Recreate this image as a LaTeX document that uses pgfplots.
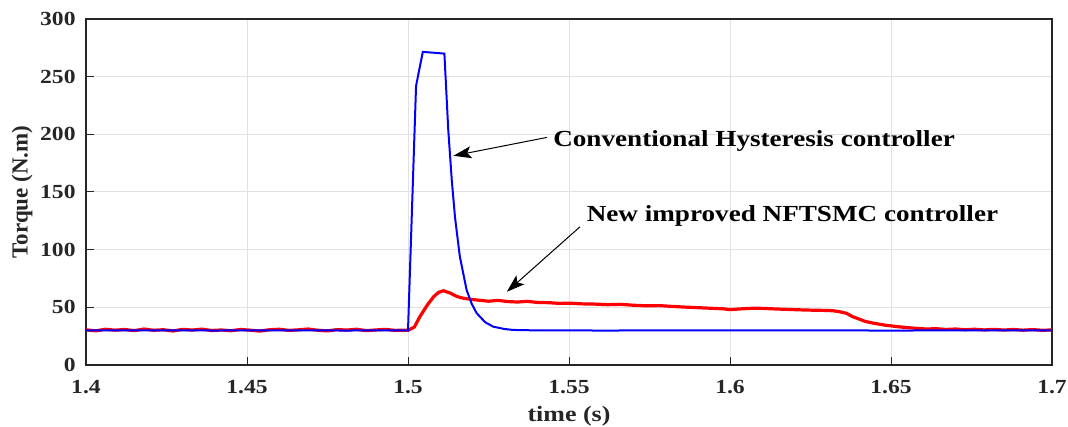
\documentclass[border=0pt]{standalone}
\usepackage{pgfplots}
\pgfplotsset{compat=1.18}
\usepackage{fontspec}
\setmainfont[FakeStretch=1.18]{Liberation Serif}
\newfontfamily\plainserif{Liberation Serif}
\usetikzlibrary{arrows.meta}
\definecolor{gridgray}{RGB}{225,225,225}
\definecolor{axgray}{RGB}{38,38,38}
\begin{document}
\begin{tikzpicture}
\begin{axis}[
  scale only axis, width=483pt, height=173pt,
  xmin=1.4, xmax=1.7, ymin=0, ymax=300,
  xtick={1.4,1.45,1.5,1.55,1.6,1.65,1.7},
  xticklabels={1.4,1.45,1.5,1.55,1.6,1.65,1.7},
  ytick={0,50,100,150,200,250,300},
  tick align=inside, tick pos=left,
  major tick length=4pt,
  grid=major, major grid style={gridgray, line width=0.5pt},
  axis line style={axgray, line width=0.6pt},
  every tick/.style={axgray, line width=0.5pt},
  /pgf/number format/assume math mode=true,
  every x tick label/.style={font=\fontsize{10}{12}\selectfont\bfseries, text=axgray, inner sep=0pt, anchor=base, yshift=-14pt},
  every y tick label/.style={font=\fontsize{10}{12}\selectfont\bfseries, text=axgray, inner sep=0pt, anchor=east, xshift=-5pt},
  xlabel={\bfseries time (s)}, ylabel={\plainserif\bfseries Torque (N.m)},
  xlabel style={font=\fontsize{11}{13}\selectfont, text=axgray, at={(axis description cs:0.5,0)}, anchor=base, yshift=-28.3pt, inner sep=0pt},
  ylabel style={font=\fontsize{11.5}{13}\selectfont, text=axgray, at={(axis description cs:0,0.5)}, anchor=center, yshift=32pt, inner sep=0pt},
]
\addplot[red, line width=1.6pt] coordinates {
(1.400,30.5) (1.403,29.6) (1.406,31.0) (1.409,30.2) (1.412,30.8) (1.415,29.8) (1.418,31.2) (1.421,30.1)
(1.424,30.6) (1.427,29.5) (1.430,30.9) (1.433,30.3) (1.436,31.1) (1.439,29.9) (1.442,30.4) (1.445,29.7)
(1.448,30.8) (1.451,30.2) (1.454,29.4) (1.457,30.6) (1.460,31.0) (1.463,30.0) (1.466,30.5) (1.469,31.2)
(1.472,30.1) (1.475,29.6) (1.478,30.7) (1.481,30.3) (1.484,31.0) (1.487,29.8) (1.490,30.4) (1.493,30.9)
(1.496,30.0) (1.499,30.2) (1.500,30.0)
(1.502,33) (1.5037,42) (1.506,52) (1.5079,59) (1.5095,63) (1.511,64.4) (1.513,62.5) (1.5151,59.5)
(1.517,58) (1.5193,57) (1.522,56.2) (1.525,55.3) (1.528,56.0) (1.531,55.0) (1.534,54.6) (1.537,55.2)
(1.540,54.3) (1.544,54.0) (1.547,53.4) (1.5503,53.6) (1.554,53.0) (1.558,52.8) (1.562,52.3) (1.566,52.6)
(1.570,51.8) (1.574,51.3) (1.578,51.5) (1.582,50.8) (1.586,50.2) (1.590,49.7) (1.594,49.2) (1.598,48.7)
(1.600,48.0) (1.603,48.6) (1.607,49.2) (1.6103,49.1) (1.614,48.6) (1.618,48.2) (1.622,47.8) (1.626,47.5)
(1.630,47.3) (1.6321,47.0) (1.634,46.2) (1.6362,44.8) (1.638,42.0) (1.6404,39.5) (1.642,37.8) (1.6445,36.3)
(1.648,34.6) (1.6518,33.3) (1.655,32.4) (1.658,31.8) (1.661,31.2) (1.664,31.5) (1.667,30.8) (1.670,31.2)
(1.673,30.6) (1.676,31.0) (1.679,30.4) (1.682,30.9) (1.685,30.3) (1.688,30.8) (1.691,30.2) (1.694,30.7)
(1.697,30.1) (1.700,30.4)
};
\addplot[blue, line width=1pt] coordinates {
(1.400,30.0) (1.420,30.1) (1.440,29.9) (1.460,30.1) (1.480,29.9) (1.4998,30.0)
(1.5,30) (1.5025,242) (1.5046,271.5) (1.5113,270) (1.5125,204) (1.5136,160) (1.5146,128)
(1.5161,94) (1.5182,65) (1.5198,53) (1.5213,45) (1.524,37) (1.5265,33.2) (1.530,31.2) (1.5326,30.4)
(1.540,30.0) (1.560,29.9) (1.600,30.0) (1.650,29.9) (1.700,30.0)
};
\draw[-{Stealth[length=9pt,width=6pt,inset=2pt]}, line width=0.5pt] (axis cs:1.5431,197.3) -- (axis cs:1.5141,181.4);
\draw[-{Stealth[length=9pt,width=6pt,inset=2pt]}, line width=0.5pt] (axis cs:1.5534,119.8) -- (axis cs:1.5307,63.5);
\node[anchor=base west, font=\fontsize{11.5}{13}\selectfont\bfseries, inner sep=0pt] at (axis cs:1.5450,189.8) {Conventional Hysteresis controller};
\node[anchor=base west, font=\fontsize{11.5}{13}\selectfont\bfseries, inner sep=0pt] at (axis cs:1.5554,124.2) {New improved NFTSMC controller};
\end{axis}
\pgfresetboundingbox
\path (-43pt,-31pt) rectangle (491pt,182.5pt);
\end{tikzpicture}
\end{document}
